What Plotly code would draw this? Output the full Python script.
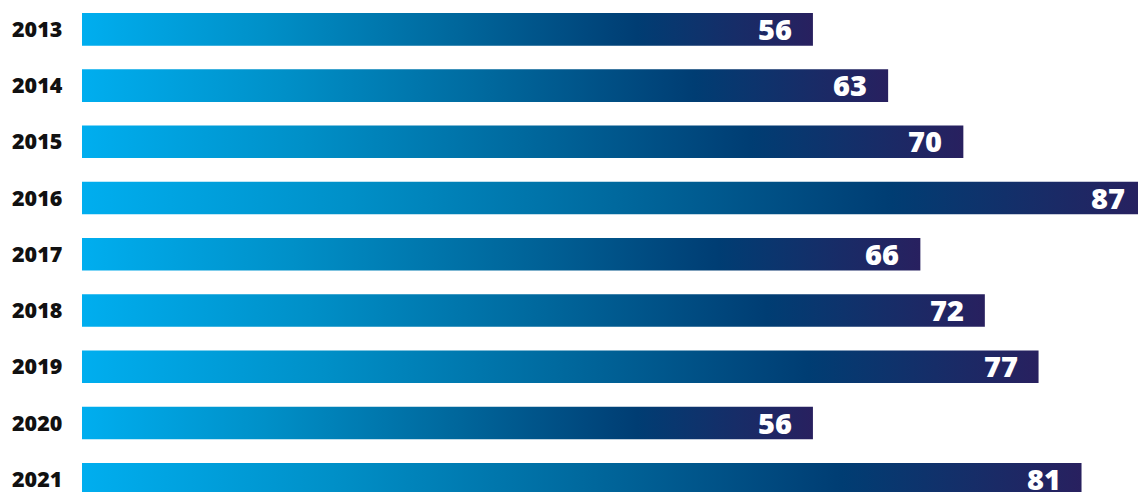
import plotly.graph_objects as go

years = ["2013", "2014", "2015", "2016", "2017", "2018", "2019", "2020", "2021"]
values = [56, 63, 70, 87, 66, 72, 77, 56, 81]

AXIS_MIN = -12.03
AXIS_MAX = 87.0
BAR_HALF = 0.29

gradient = [
    [0.0, "#00AEEF"],
    [0.25, "#0090C8"],
    [0.5, "#00699E"],
    [0.76, "#003D73"],
    [1.0, "#28205F"],
]

fig = go.Figure()
for i, (yr, v) in enumerate(zip(years, values)):
    fig.add_trace(go.Scatter(
        x=[AXIS_MIN, v, v, AXIS_MIN, AXIS_MIN],
        y=[i - BAR_HALF, i - BAR_HALF, i + BAR_HALF, i + BAR_HALF, i - BAR_HALF],
        mode="lines",
        line=dict(width=0),
        fill="toself",
        fillgradient=dict(type="horizontal", colorscale=gradient),
        hoverinfo="skip",
        showlegend=False,
    ))
    fig.add_annotation(
        x=v, y=i, xref="x", yref="y", text=str(v), showarrow=False,
        xanchor="center", yanchor="middle", xshift=-38, yshift=1,
        font=dict(family="Open Sans", size=29, color="white", weight=800),
    )
    fig.add_annotation(
        x=0, y=i, xref="paper", yref="y", text=yr, showarrow=False,
        xanchor="left", yanchor="middle", xshift=-72, yshift=1,
        font=dict(family="Open Sans", size=21.5, color="#111111", weight=800),
    )

fig.update_layout(
    width=1138, height=484,
    margin=dict(l=74, r=0, t=0, b=0),
    paper_bgcolor="white", plot_bgcolor="white",
    xaxis=dict(range=[AXIS_MIN, AXIS_MAX], visible=False, fixedrange=True),
    yaxis=dict(range=[8.226, -0.379], visible=False, fixedrange=True),
)

fig.write_html("out.html")
